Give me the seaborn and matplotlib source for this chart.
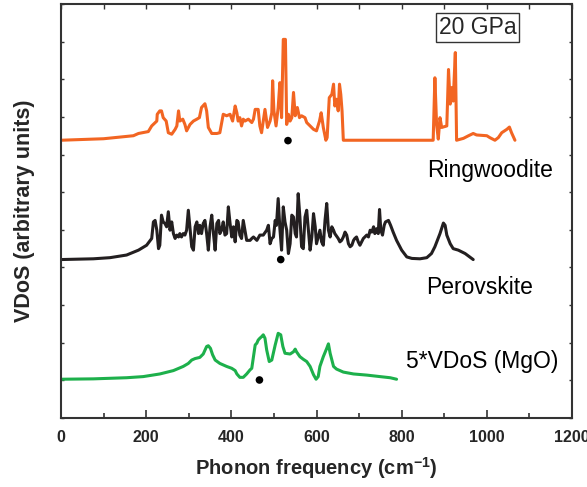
import matplotlib
matplotlib.use("Agg")
import matplotlib.pyplot as plt
import seaborn as sns
import pandas as pd
from matplotlib.ticker import MultipleLocator

sns.set_theme(style="ticks")
plt.rcParams['font.family'] = ['Liberation Sans', 'DejaVu Sans']

# ---------------- data ----------------
# Ringwoodite (orange)
ring_freq = [0, 100, 170, 182, 205, 213, 225, 226, 232, 236, 240, 247, 252, 260, 268, 272, 276, 279,
             286, 291, 295, 303, 311, 319, 325, 330, 338, 342, 346, 354, 366, 373, 381, 389, 397,
             403, 409, 413, 416, 420, 424, 428, 432, 440, 448, 452, 456, 463, 467, 471, 475, 479,
             485, 491, 495, 497, 500, 505, 510, 514, 518, 522, 527, 530, 534, 538, 542, 546, 550,
             555, 560, 565, 573, 577, 585, 593, 600, 607, 611, 616, 622, 625, 630, 636, 640, 643,
             647, 651, 654, 657, 660, 663, 874, 878, 882, 886, 890, 894, 906, 910, 914, 917, 921,
             926, 929, 945, 957, 968, 976, 1000, 1007, 1019, 1027, 1035, 1047, 1053, 1058, 1066]
ring_vdos = [0, 0.04, 0.12, 0.18, 0.23, 0.38, 0.51, 0.69, 0.78, 0.78, 0.60, 0.51, 0.20, 0.16, 0.29,
             0.38, 0.78, 0.51, 0.56, 0.42, 0.25, 0.42, 0.51, 0.56, 0.60, 0.87, 0.97, 0.78, 0.34,
             0.18, 0.18, 0.20, 0.69, 0.65, 0.69, 0.51, 0.91, 0.73, 0.51, 0.60, 0.38, 0.56, 0.51,
             0.56, 0.47, 0.56, 0.82, 0.82, 0.38, 0.20, 0.51, 0.82, 0.34, 0.51, 0.73, 1.58, 0.78,
             0.38, 0.87, 1.53, 0.60, 2.68, 2.68, 0.42, 0.69, 0.51, 0.60, 1.27, 0.65, 0.87, 0.60,
             0.65, 0.60, 0.47, 0.38, 0.29, 0.25, 0.51, 0.73, 0.34, 0.0, 0.07, 1.13, 1.22, 1.49,
             0.91, 1.09, 0.78, 1.49, 1.22, 0.78, 0.0, 0.0, 1.66, 0.42, 0.03, 0.60, 0.34, 0.38,
             1.88, 0.96, 1.40, 1.04, 2.33, 0.0, 0.05, 0.12, 0.18, 0.14, 0.12, 0.07, 0.0, 0.07,
             0.20, 0.29, 0.35, 0.20, 0.0]

# Perovskite (black)
perov_freq = [0, 76, 115, 154, 182, 201, 213, 217, 221, 225, 229, 232, 236, 240, 244, 248, 252, 256,
              260, 264, 268, 272, 276, 279, 283, 287, 291, 295, 299, 303, 307, 311, 315, 319, 323,
              326, 330, 334, 338, 342, 346, 350, 354, 358, 362, 366, 370, 373, 377, 381, 385, 389,
              393, 397, 401, 405, 409, 413, 416, 420, 424, 428, 432, 436, 444, 448, 452, 460, 467,
              475, 483, 487, 491, 495, 499, 503, 506, 510, 514, 518, 522, 526, 530, 534, 538, 542,
              546, 550, 553, 557, 561, 565, 569, 573, 577, 581, 585, 589, 593, 597, 600, 604, 608,
              612, 616, 620, 624, 628, 632, 636, 640, 643, 651, 655, 659, 663, 667, 671, 675, 679,
              683, 687, 690, 694, 698, 702, 706, 710, 718, 722, 726, 730, 734, 737, 741, 745, 748,
              751, 755, 759, 762, 769, 774, 780, 788, 800, 812, 824, 843, 859, 870, 878, 890, 898,
              902, 906, 914, 921, 933, 949, 968]
perov_vdos = [0, 0.02, 0.05, 0.12, 0.25, 0.38, 0.56, 1.00, 1.04, 0.78, 0.29, 0.38, 1.18, 1.00, 0.96,
              0.87, 1.27, 0.78, 1.00, 0.69, 0.56, 0.65, 0.60, 0.69, 0.60, 0.69, 0.65, 0.78, 1.31,
              0.82, 0.34, 0.25, 0.87, 1.00, 0.69, 0.91, 0.69, 0.96, 1.04, 0.69, 0.25, 0.87, 1.18,
              0.69, 0.25, 0.96, 1.04, 0.69, 0.78, 1.00, 0.65, 0.69, 1.40, 0.96, 0.60, 0.87, 0.47,
              1.04, 1.00, 0.65, 0.56, 1.04, 0.78, 0.51, 0.51, 0.56, 0.60, 0.51, 0.65, 0.65, 0.78,
              0.91, 0.42, 0.56, 0.60, 1.04, 0.91, 1.62, 0.82, 0.25, 1.40, 1.00, 0.78, 0.16, 0.42,
              1.18, 1.13, 0.69, 0.60, 1.75, 1.13, 0.34, 0.29, 1.13, 1.31, 0.78, 0.25, 0.60, 1.22,
              0.87, 0.42, 0.60, 0.78, 0.47, 0.38, 1.04, 1.49, 0.78, 0.60, 0.87, 0.78, 0.69, 0.56,
              0.47, 0.51, 0.60, 0.73, 0.65, 0.42, 0.34, 0.38, 0.51, 0.56, 0.60, 0.47, 0.38, 0.47,
              0.56, 0.65, 0.60, 0.78, 0.73, 0.87, 0.69, 0.82, 0.69, 1.33, 0.78, 0.65, 0.91, 1.00,
              1.04, 0.91, 0.73, 0.51, 0.25, 0.07, 0.03, 0.02, 0.05, 0.16, 0.34, 0.69, 0.97, 0.91,
              0.65, 0.42, 0.29, 0.25, 0.16, 0.0]

# MgO (green, 5 x VDoS)
mgo_freq = [0, 76, 154, 193, 232, 264, 287, 299, 307, 315, 326, 334, 342, 346, 351, 356, 362, 373,
            389, 401, 409, 413, 420, 428, 436, 444, 448, 452, 456, 460, 463, 467, 471, 475, 479,
            483, 489, 495, 503, 510, 516, 521, 526, 538, 546, 550, 553, 561, 569, 577, 585, 593,
            599, 604, 608, 616, 624, 628, 632, 640, 647, 663, 687, 718, 749, 773, 788]
mgo_vdos = [0, 0.01, 0.04, 0.07, 0.14, 0.23, 0.34, 0.42, 0.51, 0.55, 0.58, 0.67, 0.87, 0.89, 0.82,
            0.65, 0.51, 0.42, 0.34, 0.29, 0.23, 0.14, 0.05, 0.05, 0.14, 0.25, 0.29, 0.60, 0.91,
            0.96, 1.04, 1.09, 1.13, 1.18, 1.09, 0.78, 0.47, 0.51, 0.91, 1.22, 1.18, 0.87, 0.69,
            0.67, 0.73, 0.80, 0.73, 0.60, 0.53, 0.47, 0.34, 0.12, 0.0, 0.07, 0.34, 0.60, 0.82,
            0.94, 0.69, 0.34, 0.27, 0.19, 0.14, 0.11, 0.07, 0.04, 0.0]

series_names = ["Ringwoodite", "Perovskite", "5*VDoS (MgO)"]
series_offsets = [7.38, 4.21, 1.03]
series_colors = ["#F26522", "#231F20", "#1DB04B"]

# black dots (mean frequencies)
dot_freq = [533, 516, 466]
dot_level = [7.37, 4.21, 1.01]

pressure_label = "20 GPa"
x_ticks = [0, 200, 400, 600, 800, 1000, 1200]

# ---------------- figure ----------------
fig = plt.figure(figsize=(5.87, 4.87), dpi=100)
ax = fig.add_axes([61 / 587, 1 - 418 / 487, 511 / 587, 414 / 487])

all_freq = [ring_freq, perov_freq, mgo_freq]
all_vdos = [ring_vdos, perov_vdos, mgo_vdos]
for name, f, v, off, col in zip(series_names, all_freq, all_vdos, series_offsets, series_colors):
    df = pd.DataFrame({"freq": f, "vdos": [val + off for val in v]})
    sns.lineplot(data=df, x="freq", y="vdos", ax=ax, color=col, lw=2.2,
                 sort=False, estimator=None)

sns.scatterplot(x=dot_freq, y=dot_level, ax=ax, color="black", s=30, edgecolor="none", zorder=5)

ax.set_xlim(0, 1200)
ax.set_ylim(0, 11)
ax.set_xticks(x_ticks)
ax.set_xticklabels([str(t) for t in x_ticks], fontweight="bold", fontsize=11.5)
ax.xaxis.set_minor_locator(MultipleLocator(100))
ax.yaxis.set_major_locator(MultipleLocator(1))
ax.set_yticklabels([])
ax.tick_params(axis="x", which="major", direction="in", length=6, width=1.2, color="#333333",
               top=False, pad=9)
ax.tick_params(axis="x", which="minor", direction="in", length=3.5, width=1.2, color="#333333",
               top=False)
ax.tick_params(axis="y", which="major", direction="in", length=2.5, width=1.0, color="#333333",
               left=True, right=True)

# top ticks every 100 (short, inward)
sec = ax.secondary_xaxis("top")
sec.set_xticks(list(range(0, 1201, 100)))
sec.set_xticklabels([])
sec.tick_params(direction="in", length=3.5, width=1.0, color="#333333")
sec.spines["top"].set_visible(False)

for s in ax.spines.values():
    s.set_linewidth(1.5)
    s.set_color("#333333")

ax.set_xlabel("Phonon frequency (cm$^{\\mathregular{-1}}$)", fontsize=14.5, fontweight="bold", labelpad=7)
ax.set_ylabel("VDoS (arbitrary units)", fontsize=15.5, fontweight="bold", labelpad=15)

label_pos = [(1007, 6.58), (984, 3.47), (989, 1.51)]
for name, (lx, ly) in zip(series_names, label_pos):
    ax.text(lx, ly, name, fontsize=16.5, ha="center", va="center", color="black")

ax.text(979, 10.37, pressure_label, fontsize=16.5, ha="center", va="center",
        bbox=dict(boxstyle="square,pad=0.12", fc="white", ec="#333333", lw=1.0))

fig.savefig("out.png", dpi=100)
